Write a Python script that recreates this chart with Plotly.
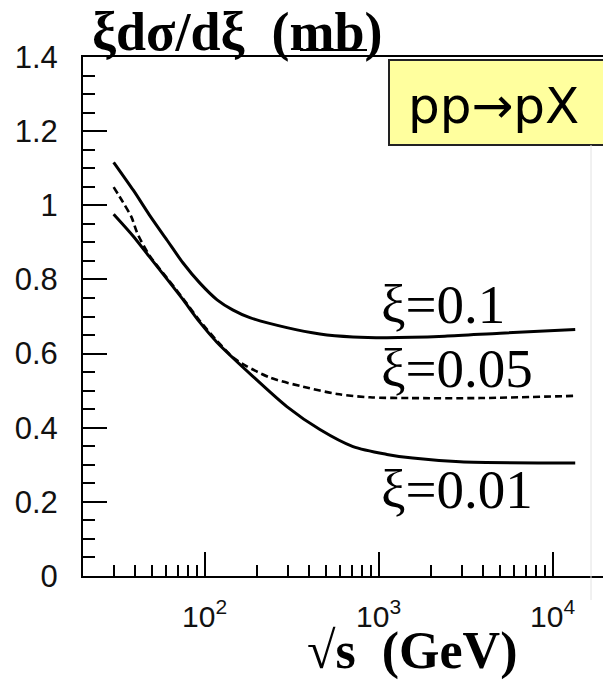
import math
import plotly.graph_objects as go

# sqrt(s) in GeV and xi*dsigma/dxi in mb for three values of xi
sqrt_s_xi010 = [30, 39, 48, 61, 75, 94, 118, 145, 182, 297, 460, 713, 1117, 2400, 5000, 13500]
sigma_xi010 = [1.116, 1.040, 0.975, 0.905, 0.845, 0.790, 0.745, 0.718, 0.697, 0.670,
               0.653, 0.645, 0.643, 0.647, 0.655, 0.665]

sqrt_s_xi005 = [30, 34, 38, 41, 48, 61, 75, 94, 118, 150, 238, 367, 577, 892, 1513, 3830, 13500]
sigma_xi005 = [1.049, 1.008, 0.968, 0.925, 0.866, 0.803, 0.749, 0.688, 0.634, 0.585,
               0.535, 0.511, 0.491, 0.482, 0.480, 0.480, 0.486]

sqrt_s_xi001 = [30, 39, 48, 61, 75, 94, 118, 190, 297, 460, 713, 1117, 1570, 2940, 13500]
sigma_xi001 = [0.976, 0.916, 0.862, 0.800, 0.746, 0.684, 0.630, 0.538, 0.457, 0.395,
               0.349, 0.328, 0.318, 0.308, 0.305]

curve_labels = ["ξ=0.1", "ξ=0.05", "ξ=0.01"]

x_major = [100, 1000, 10000]
x_major_text = ["10<sup>2</sup>", "10<sup>3</sup>", "10<sup>4</sup>"]
x_minor = [30, 40, 50, 60, 70, 80, 90,
           200, 300, 400, 500, 600, 700, 800, 900,
           2000, 3000, 4000, 5000, 6000, 7000, 8000, 9000]

W, H = 603, 682
L, R, T, B = 83, 0, 57, 106
PW, PH = W - L - R, H - T - B


def px(x):
    return (x - L) / PW


def py(y):
    return (H - B - y) / PH


fig = go.Figure()
fig.add_trace(go.Scatter(x=sqrt_s_xi010, y=sigma_xi010, mode="lines",
                         line=dict(color="black", width=3, shape="spline", smoothing=0.8)))
fig.add_trace(go.Scatter(x=sqrt_s_xi005, y=sigma_xi005, mode="lines",
                         line=dict(color="black", width=2.6, dash="7px,4px",
                                   shape="spline", smoothing=0.8)))
fig.add_trace(go.Scatter(x=sqrt_s_xi001, y=sigma_xi001, mode="lines",
                         line=dict(color="black", width=3, shape="spline", smoothing=0.8)))

serif = "Liberation Serif"

annotations = [
    dict(text="<b>ξdσ/dξ  (mb)</b>", x=px(90), y=py(32), xanchor="left", yanchor="middle",
         font=dict(family=serif, size=54, color="black")),
    dict(text="<b>√s  (GeV)</b>", x=px(412), y=py(651), xanchor="center", yanchor="middle",
         font=dict(family=serif, size=52, color="black")),
    dict(text=curve_labels[0], x=px(379), y=py(304), xanchor="left", yanchor="middle",
         font=dict(family=serif, size=55, color="black")),
    dict(text=curve_labels[1], x=px(379), y=py(369), xanchor="left", yanchor="middle",
         font=dict(family=serif, size=55, color="black")),
    dict(text=curve_labels[2], x=px(379), y=py(489), xanchor="left", yanchor="middle",
         font=dict(family=serif, size=55, color="black")),
    dict(text="pp→pX", x=px(406), y=py(106), xanchor="left", yanchor="middle",
         font=dict(family="DejaVu Sans", size=50, color="black")),
]
for a in annotations:
    a.update(xref="paper", yref="paper", showarrow=False)

shapes = [
    # highlighted reaction box
    dict(type="rect", xref="paper", yref="paper", x0=px(389), x1=px(610), y0=py(145), y1=py(60),
         fillcolor="#FFFF9E", line=dict(color="#222222", width=2), layer="above"),
    # underline of the unit
    dict(type="line", xref="paper", yref="paper", x0=px(300), x1=px(367), y0=py(50), y1=py(50),
         line=dict(color="black", width=2)),
    # faint page border on the right
    dict(type="line", xref="paper", yref="paper", x0=px(591), x1=px(591), y0=py(145), y1=py(600),
         line=dict(color="#e2e2e2", width=1)),
]

fig.update_layout(
    width=W, height=H,
    margin=dict(l=L, r=R, t=T, b=B, pad=0),
    paper_bgcolor="white", plot_bgcolor="white",
    showlegend=False,
    annotations=annotations,
    shapes=shapes,
    xaxis=dict(
        type="log", range=[math.log10(20), 4.29],
        showgrid=False, zeroline=False,
        showline=True, linecolor="black", linewidth=2, mirror=True,
        tickmode="array", tickvals=x_major, ticktext=x_major_text,
        ticks="inside", ticklen=24, tickwidth=2, tickcolor="black",
        ticklabelstandoff=13,
        tickfont=dict(family="Liberation Sans", size=30, color="#111111"),
        minor=dict(tickmode="array", tickvals=x_minor, ticks="inside",
                   ticklen=11, tickwidth=2, tickcolor="black", showgrid=False),
    ),
    yaxis=dict(
        range=[0, 1.4],
        showgrid=False, zeroline=False,
        showline=True, linecolor="black", linewidth=2, mirror=False,
        tickmode="linear", tick0=0, dtick=0.2,
        ticks="inside", ticklen=24, tickwidth=2, tickcolor="black",
        ticklabelstandoff=17,
        tickfont=dict(family="Liberation Sans", size=31, color="#111111"),
        minor=dict(tickmode="linear", tick0=0, dtick=0.05, ticks="inside",
                   ticklen=12, tickwidth=2, tickcolor="black", showgrid=False),
    ),
)

fig.write_html("out.html")
